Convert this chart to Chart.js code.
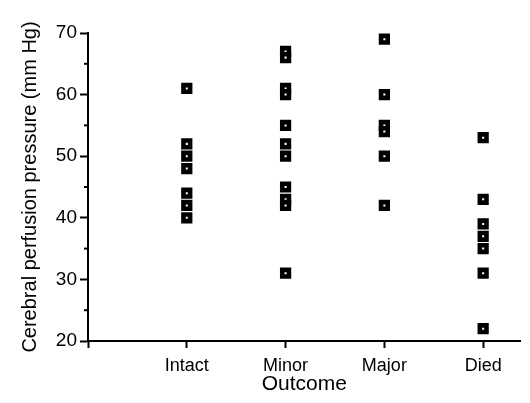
<!DOCTYPE html>
<html>
<head>
<meta charset="utf-8">
<script src="https://cdn.jsdelivr.net/npm/chart.js@4/dist/chart.umd.min.js"></script>
<style>
  html, body { margin: 0; padding: 0; background: #fff; }
  #wrap { width: 530px; height: 403px; }
</style>
</head>
<body>
<div id="wrap"><canvas id="c" width="530" height="403"></canvas></div>
<script>
const categories = ['Intact', 'Minor', 'Major', 'Died'];
const intact = [61, 52, 50, 48, 44, 42, 40];
const minor  = [67, 66, 61, 60, 55, 52, 50, 45, 43, 42, 31];
const major  = [69, 60, 55, 54, 50, 42];
const died   = [53, 43, 39, 37, 35, 31, 22];
const yMajorTicks = [20, 30, 40, 50, 60, 70];
const yMinorTicks = [25, 35, 45, 55, 65];

const groups = [intact, minor, major, died];
const points = [];
groups.forEach((vals, i) => vals.forEach(v => points.push({x: i + 1, y: v})));

const FONT = "'Liberation Sans', Arial, Helvetica, sans-serif";

const minorTickPlugin = {
  id: 'minorTicks',
  afterDraw(chart) {
    const ys = chart.scales.y;
    const ctx = chart.ctx;
    ctx.save();
    ctx.strokeStyle = '#000';
    ctx.lineWidth = 2;
    yMinorTicks.forEach(v => {
      const py = ys.getPixelForValue(v);
      ctx.beginPath();
      ctx.moveTo(chart.chartArea.left - 4, py);
      ctx.lineTo(chart.chartArea.left, py);
      ctx.stroke();
    });
    ctx.restore();
  }
};

new Chart(document.getElementById('c'), {
  type: 'scatter',
  data: {
    datasets: [{
      data: points,
      pointStyle: 'rect',
      pointRadius: 4.7,
      pointHoverRadius: 4.7,
      pointBorderWidth: 4.6,
      pointBackgroundColor: '#fff',
      pointBorderColor: '#000'
    }]
  },
  options: {
    responsive: false,
    animation: false,
    events: [],
    layout: { padding: { top: 33, right: 5, left: 0, bottom: 0 } },
    plugins: { legend: { display: false }, tooltip: { enabled: false } },
    scales: {
      x: {
        type: 'linear',
        min: 0,
        max: 4.38,
        afterBuildTicks(scale) {
          scale.ticks = [0].concat(categories.map((c, i) => i + 1)).map(v => ({value: v}));
        },
        afterFit(scale) { scale.height = 62; },
        ticks: {
          callback: (v) => categories[v - 1] || '',
          color: '#000',
          font: { family: FONT, size: 18 },
          padding: 7,
          maxRotation: 0,
          autoSkip: false
        },
        grid: { drawOnChartArea: false, drawTicks: true, tickLength: 7, tickWidth: 2, tickColor: '#000' },
        border: { display: true, color: '#000', width: 2 },
        title: {
          display: true,
          text: 'Outcome',
          color: '#000',
          font: { family: FONT, size: 21 },
          padding: { top: 0, bottom: 6 }
        }
      },
      y: {
        min: 20,
        max: 70,
        afterBuildTicks(scale) {
          scale.ticks = yMajorTicks.map(v => ({value: v}));
        },
        afterFit(scale) { scale.width = 88; },
        ticks: {
          color: '#000',
          font: { family: FONT, size: 19 },
          padding: 3
        },
        grid: { drawOnChartArea: false, drawTicks: true, tickLength: 8, tickWidth: 2, tickColor: '#000' },
        border: { display: true, color: '#000', width: 2 },
        title: {
          display: true,
          text: 'Cerebral perfusion pressure (mm Hg)',
          color: '#000',
          font: { family: FONT, size: 20 },
          padding: { top: 18, bottom: 0 }
        }
      }
    }
  },
  plugins: [minorTickPlugin]
});
</script>
</body>
</html>
